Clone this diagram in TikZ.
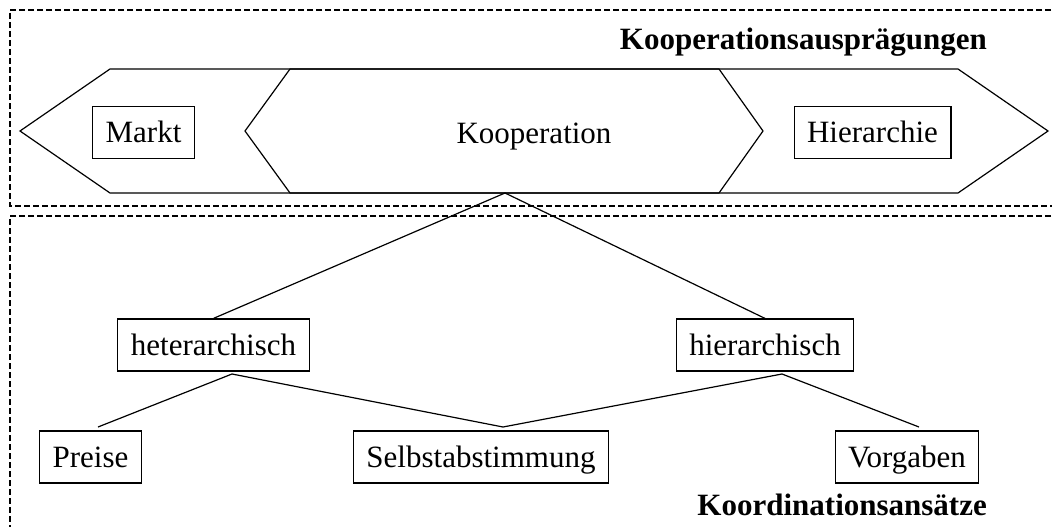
\documentclass[tikz,border=0pt]{standalone}
\usepackage{fontspec}
\setmainfont{Liberation Serif}
\begin{document}
\begin{tikzpicture}[x=1pt,y=-1pt,
  txt/.style={font=\fontsize{31}{36}\selectfont},
  box/.style={draw,line width=1.2pt,txt,inner xsep=13pt,inner ysep=0pt,
    text height=25pt,text depth=5pt,minimum height=52pt},
  frame/.style={line width=2pt,dash pattern=on 6pt off 3pt},
  link/.style={line width=1.2pt},
  band/.style={line width=1.2pt,line join=miter},
  title/.style={font=\fontsize{31}{36}\selectfont\bfseries,inner sep=0pt,anchor=base east}]
\useasboundingbox (0,0) rectangle (1052,527);
% dashed frames
\draw[frame] (1060,10) -- (10,10) -- (10,206) -- (1060,206);
\draw[frame] (1060,216) -- (10,216) -- (10,540);
% arrow-like bands
\draw[band] (20,131) -- (110,69) -- (958,69) -- (1048,131) -- (958,193) -- (110,193) -- cycle;
\draw[band] (245,131) -- (290,69) -- (719,69) -- (763,131) -- (719,193) -- (290,193) -- cycle;
% texts
\node[title] (t1) at (987,49) {Kooperationsausprägungen};
\node[title] (t2) at (987,515) {Koordinationsansätze};
\node[box] (markt) at (143.5,132.5) {Markt};
\node[box] (hier) at (872.5,132.5) {Hierarchie};
\node[txt,inner sep=0pt,anchor=base] (koop) at (534,143) {Kooperation};
\node[box] (het) at (213.5,345) {heterarchisch};
\node[box] (hie) at (765,345) {hierarchisch};
\node[box] (preise) at (90.5,457) {Preise};
\node[box] (selbst) at (481,457) {Selbstabstimmung};
\node[box] (vorg) at (907,457) {Vorgaben};
% connector points
\coordinate (kb) at (505,193);
\coordinate (hetb) at (232,374);
\coordinate (hieb) at (782,374);
\coordinate (pt) at (98,427);
\coordinate (st) at (503,427);
\coordinate (vt) at (919,427);
% connectors
\draw[link] (kb) -- (het.north);
\draw[link] (kb) -- (hie.north);
\draw[link] (pt) -- (hetb) -- (st) -- (hieb) -- (vt);
\end{tikzpicture}
\end{document}
